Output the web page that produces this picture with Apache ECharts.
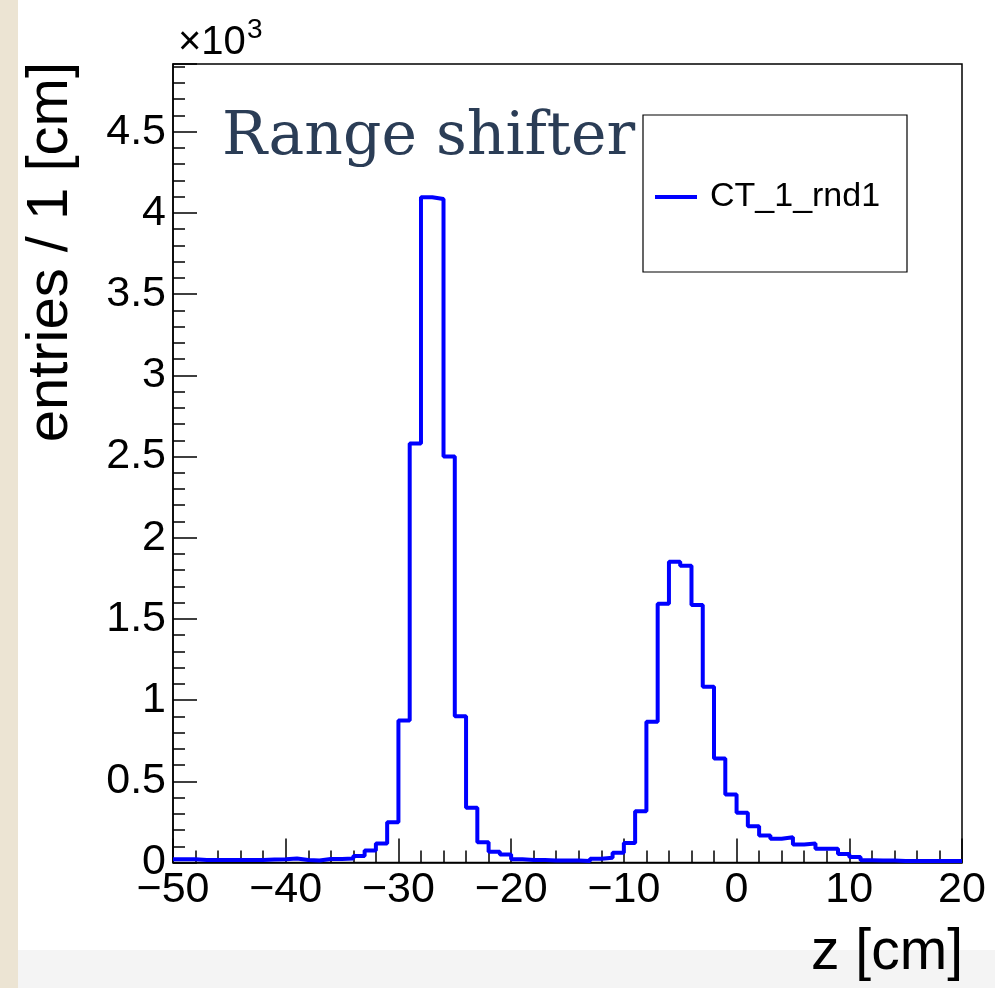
<!DOCTYPE html>
<html>
<head>
<meta charset="utf-8">
<script src="https://cdn.jsdelivr.net/npm/echarts@6/dist/echarts.min.js"></script>
<style>
html,body{margin:0;padding:0;background:#ffffff;}
#chart{width:995px;height:988px;}
</style>
</head>
<body>
<div id="chart"></div>
<script>
// Bin lower edges (1 cm bins) of the z histogram
const zBinLow = [-50,-49,-48,-47,-46,-45,-44,-43,-42,-41,-40,-39,-38,-37,-36,-35,-34,-33,-32,-31,
  -30,-29,-28,-27,-26,-25,-24,-23,-22,-21,-20,-19,-18,-17,-16,-15,-14,-13,-12,-11,
  -10,-9,-8,-7,-6,-5,-4,-3,-2,-1,0,1,2,3,4,5,6,7,8,9,10,11,12,13,14,15,16,17,18,19];
const zUpperEdge = 20;
// entries per bin, in units of 10^3
const entriesCT1rnd1 = [0.020,0.020,0.015,0.015,0.015,0.015,0.015,0.015,0.018,0.020,
  0.025,0.015,0.012,0.022,0.022,0.025,0.040,0.074,0.117,0.248,
  0.874,2.580,4.097,4.086,2.500,0.900,0.337,0.125,0.066,0.049,
  0.020,0.015,0.015,0.012,0.012,0.012,0.010,0.023,0.029,0.060,
  0.120,0.316,0.866,1.594,1.852,1.828,1.585,1.083,0.640,0.418,
  0.306,0.223,0.167,0.146,0.156,0.111,0.117,0.084,0.084,0.052,
  0.034,0.014,0.012,0.012,0.010,0.010,0.010,0.010,0.010,0.010];
const seriesName = 'CT_1_rnd1';
const xTitle = 'z [cm]';
const yTitle = 'entries / 1 [cm]';
const annotation = 'Range shifter';
const xMin = -50, xMax = 20, xStep = 10;
const yMin = 0, yMax = 4.917, yStep = 0.5, yMinorStep = 0.1;

const stepData = zBinLow.map((x, i) => [x, entriesCT1rnd1[i]]);
stepData.push([zUpperEdge, entriesCT1rnd1[entriesCT1rnd1.length - 1]]);

const chart = echarts.init(document.getElementById('chart'), null, {renderer: 'canvas'});
const labelFont = 'Liberation Sans';
const option = {
  backgroundColor: '#ffffff',
  animation: false,
  grid: {left: 173, right: 33, top: 64, bottom: 125.5, show: true, borderColor: '#000', borderWidth: 1.5, containLabel: false},
  legend: {
    show: true, left: 655, top: 180, padding: 0, icon: 'rect', itemWidth: 42, itemHeight: 4,
    textStyle: {fontFamily: labelFont, fontSize: 34, color: '#000', padding: [0, 0, 0, 8]},
    data: [seriesName]
  },
  xAxis: {
    type: 'value', min: xMin, max: xMax, interval: xStep,
    axisLine: {show: true, onZero: false, lineStyle: {color: '#000', width: 1.5}},
    axisTick: {show: true, inside: true, length: 24, lineStyle: {color: '#000', width: 1.5}},
    minorTick: {show: true, splitNumber: 5, length: 12, lineStyle: {color: '#000', width: 1.5}},
    splitLine: {show: false}, minorSplitLine: {show: false},
    axisLabel: {fontFamily: labelFont, fontSize: 43, color: '#000', margin: 6,
      formatter: v => String(v).replace('-', '\u2212')}
  },
  yAxis: [{
    type: 'value', min: yMin, max: yMax, interval: yStep,
    axisLine: {show: true, onZero: false, lineStyle: {color: '#000', width: 1.5}},
    axisTick: {show: true, inside: true, length: 24, lineStyle: {color: '#000', width: 1.5}},
    splitLine: {show: false},
    axisLabel: {fontFamily: labelFont, fontSize: 43, color: '#000', margin: 7,
      formatter: v => (Math.abs(v * 2 - Math.round(v * 2)) < 1e-6 ? String(+v.toFixed(1)) : '')}
  }, {
    type: 'value', min: yMin, max: yMax, interval: yMinorStep, position: 'left',
    axisLine: {show: false, onZero: false},
    axisTick: {show: true, inside: true, length: 12, lineStyle: {color: '#000', width: 1.5}},
    axisLabel: {show: false}, splitLine: {show: false}
  }],
  series: [{
    name: seriesName, type: 'line', step: 'end', data: stepData,
    xAxisIndex: 0, yAxisIndex: 0, symbol: 'none',
    lineStyle: {color: '#0000ff', width: 4}, itemStyle: {color: '#0000ff'}, z: 3
  }],
  graphic: [
    {type: 'rect', left: 0, top: 0, shape: {width: 18, height: 988}, style: {fill: '#ece4d3'}, z: -10},
    {type: 'rect', left: 18, top: 950, shape: {width: 977, height: 38}, style: {fill: '#f4f4f4'}, z: -10},
    {type: 'rect', shape: {x: 643, y: 115, width: 264, height: 157}, style: {fill: '#fff', stroke: '#000', lineWidth: 1.2}, z: 1},
    {type: 'text', x: 222, y: 138, style: {text: annotation, font: '60px "DejaVu Serif"', fill: '#2b3d56', textAlign: 'left', textVerticalAlign: 'middle'}, z: 10},
    {type: 'text', x: 178, y: 43, style: {text: '\u00d710', font: '40px "Liberation Sans"', fill: '#000', textAlign: 'left', textVerticalAlign: 'middle'}, z: 10},
    {type: 'text', x: 247, y: 30, style: {text: '3', font: '28px "Liberation Sans"', fill: '#000', textAlign: 'left', textVerticalAlign: 'middle'}, z: 10},
    {type: 'text', x: 51, y: 62, rotation: Math.PI / 2, style: {text: yTitle, font: '58px "Liberation Sans"', fill: '#000', textAlign: 'right', textVerticalAlign: 'middle'}, z: 10},
    {type: 'text', x: 963, y: 953, style: {text: xTitle, font: '57px "Liberation Sans"', fill: '#000', textAlign: 'right', textVerticalAlign: 'middle'}, z: 10}
  ]
};
chart.setOption(option);
</script>
</body>
</html>
